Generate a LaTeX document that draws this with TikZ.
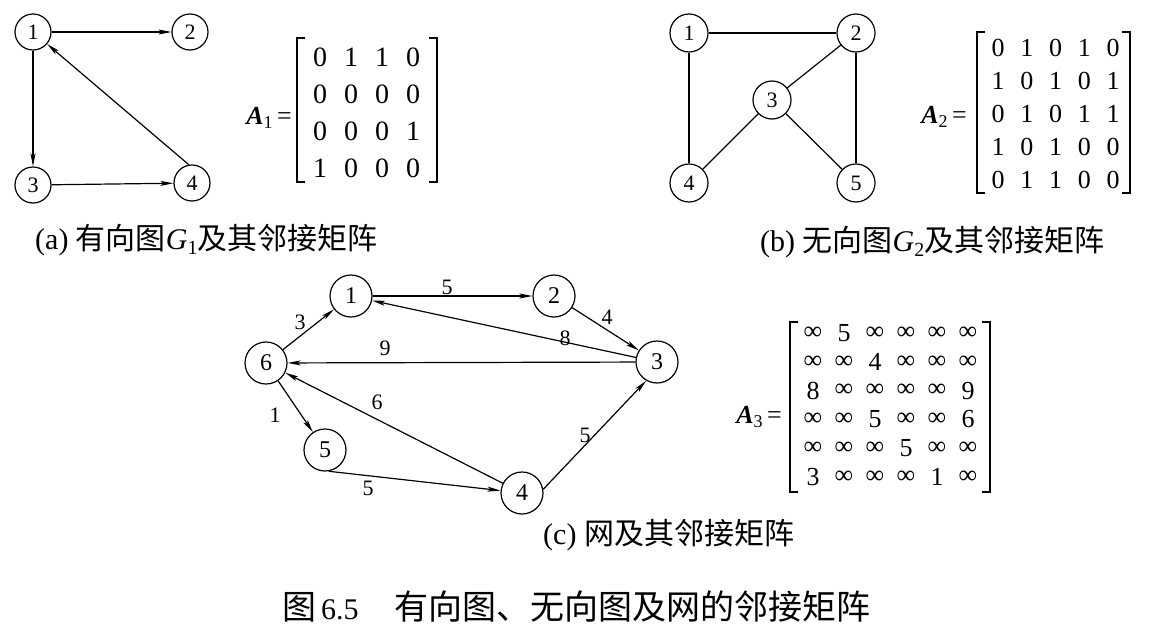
\documentclass[tikz,border=0pt]{standalone}
\usepackage{fontspec}
\setmainfont{Liberation Serif}
\newfontfamily\cjk{Noto Sans CJK SC}
\usetikzlibrary{arrows.meta}
\newcommand{\fs}[1]{\fontsize{#1}{#1}\selectfont}
\begin{document}
\begin{tikzpicture}[x=1pt,y=-1pt,
  vtx/.style={circle,draw,line width=1.2pt,inner sep=0pt,minimum size=#1},
  edge/.style={line width=1.2pt},
  arc/.style={edge,-{Stealth[length=13pt,width=5pt,inset=3pt]}},
  lbl/.style={font=\fs{22},inner sep=0pt},
  ent/.style={font=\fs{#1},inner sep=0pt},
  brk/.style={line width=1.7pt},
  cap/.style={anchor=west,inner sep=0pt,font=\fs{#1}},
]
\useasboundingbox (0,0) rectangle (1152,632);

% ---------- (a) ----------
\begin{scope}[every node/.append style={font=\fs{22}}]
\node[vtx=36pt] (a1) at (33,32) {1};
\node[vtx=36pt] (a2) at (190,32) {2};
\node[vtx=36pt] (a3) at (33,185) {3};
\node[vtx=36pt] (a4) at (192,183) {4};
\end{scope}
\draw[arc] (a1) -- (a2);
\draw[arc] (a1) -- (a3);
\draw[arc] (a3) -- (a4);
\draw[arc] (a4.100) -- (a1);

\node[ent=26] (A1) at (269,118) {{\bfseries\itshape A}\raisebox{-4pt}{\fs{18}1}\,=};
\foreach \row [count=\r] in {{0,1,1,0},{0,0,0,0},{0,0,0,1},{1,0,0,0}}
  \foreach \e [count=\c] in \row
    \node[ent=28] (ma-\r-\c) at ({320+31*(\c-1)},{57+37*(\r-1)}) {\e};
\draw[brk] (305,38) -- (297,38) -- (297,182) -- (305,182);
\draw[brk] (429,38) -- (437,38) -- (437,182) -- (429,182);
\node[cap=30] (capa) at (35,240) {(a) {\cjk 有向图}\textit{G}\raisebox{-5pt}{\fs{20}1}{\cjk 及其邻接矩阵}};

% ---------- (b) ----------
\begin{scope}[every node/.append style={font=\fs{22}}]
\node[vtx=38pt] (b1) at (689,33) {1};
\node[vtx=38pt] (b2) at (856,33) {2};
\node[vtx=38pt] (b3) at (772,100) {3};
\node[vtx=38pt] (b4) at (689,183) {4};
\node[vtx=38pt] (b5) at (856,183) {5};
\end{scope}
\draw[edge] (b1) -- (b2);
\draw[edge] (b1) -- (b4);
\draw[edge] (b2) -- (b5);
\draw[edge] (b2) -- (b3);
\draw[edge] (b3) -- (b4);
\draw[edge] (b3) -- (b5);

\node[ent=26] (A2) at (944,117) {{\bfseries\itshape A}\raisebox{-4pt}{\fs{18}2}\,=};
\foreach \row [count=\r] in {{0,1,0,1,0},{1,0,1,0,1},{0,1,0,1,1},{1,0,1,0,0},{0,1,1,0,0}}
  \foreach \e [count=\c] in \row
    \node[ent=26] (mb-\r-\c) at ({998+28.75*(\c-1)},{48+33*(\r-1)}) {\e};
\draw[brk] (985,32) -- (977,32) -- (977,193) -- (985,193);
\draw[brk] (1122,32) -- (1130,32) -- (1130,193) -- (1122,193);
\node[cap=30] (capb) at (760,242) {(b) {\cjk 无向图}\textit{G}\raisebox{-5pt}{\fs{20}2}{\cjk 及其邻接矩阵}};

% ---------- (c) ----------
\begin{scope}[every node/.append style={font=\fs{24}}]
\node[vtx=42pt] (c1) at (351,296) {1};
\node[vtx=42pt] (c2) at (554,296) {2};
\node[vtx=42pt] (c3) at (657,362) {3};
\node[vtx=42pt] (c4) at (522,493) {4};
\node[vtx=42pt] (c5) at (325,450) {5};
\node[vtx=42pt] (c6) at (266,363) {6};
\end{scope}
\draw[arc] (c6) -- (c1);
\draw[arc] (c1) -- (c2);
\draw[arc] (c2) -- (c3);
\draw[arc] (c3) -- (c1);
\draw[arc] (c3) -- (c6);
\draw[arc] (c4) -- (c6);
\draw[arc] (c6) -- (c5);
\draw[arc] (c5.-80) -- (c4);
\draw[arc] (c4.10) -- (c3.-120);

\node[lbl] (w61) at (300,322) {3};
\node[lbl] (w12) at (447,287) {5};
\node[lbl] (w23) at (607,317) {4};
\node[lbl] (w31) at (565,338) {8};
\node[lbl] (w36) at (385,348) {9};
\node[lbl] (w46) at (377,402) {6};
\node[lbl] (w65) at (275,415) {1};
\node[lbl] (w54) at (368,488) {5};
\node[lbl] (w43) at (585,435) {5};

\node[ent=26] (A3) at (759,417) {{\bfseries\itshape A}\raisebox{-4pt}{\fs{18}3}\,=};
\foreach \row [count=\r] in {{∞,5,∞,∞,∞,∞},{∞,∞,4,∞,∞,∞},{8,∞,∞,∞,∞,9},{∞,∞,5,∞,∞,6},{∞,∞,∞,5,∞,∞},{3,∞,∞,∞,1,∞}}
  \foreach \e [count=\c] in \row
    \node[ent=26] (mc-\r-\c) at ({813+31*(\c-1)},{333+28.8*(\r-1)}) {\e};
\draw[brk] (798,322) -- (790,322) -- (790,492) -- (798,492);
\draw[brk] (982,322) -- (990,322) -- (990,492) -- (982,492);
\node[cap=30] (capc) at (543,535) {(c) {\cjk 网及其邻接矩阵}};

% ---------- figure caption ----------
\node[cap=34] (capfig) at (282,607) {{\cjk 图}\hspace{5pt}{\fs{30}6.5}\hspace{36pt}{\cjk 有向图、无向图及网的邻接矩阵}};
\end{tikzpicture}
\end{document}
